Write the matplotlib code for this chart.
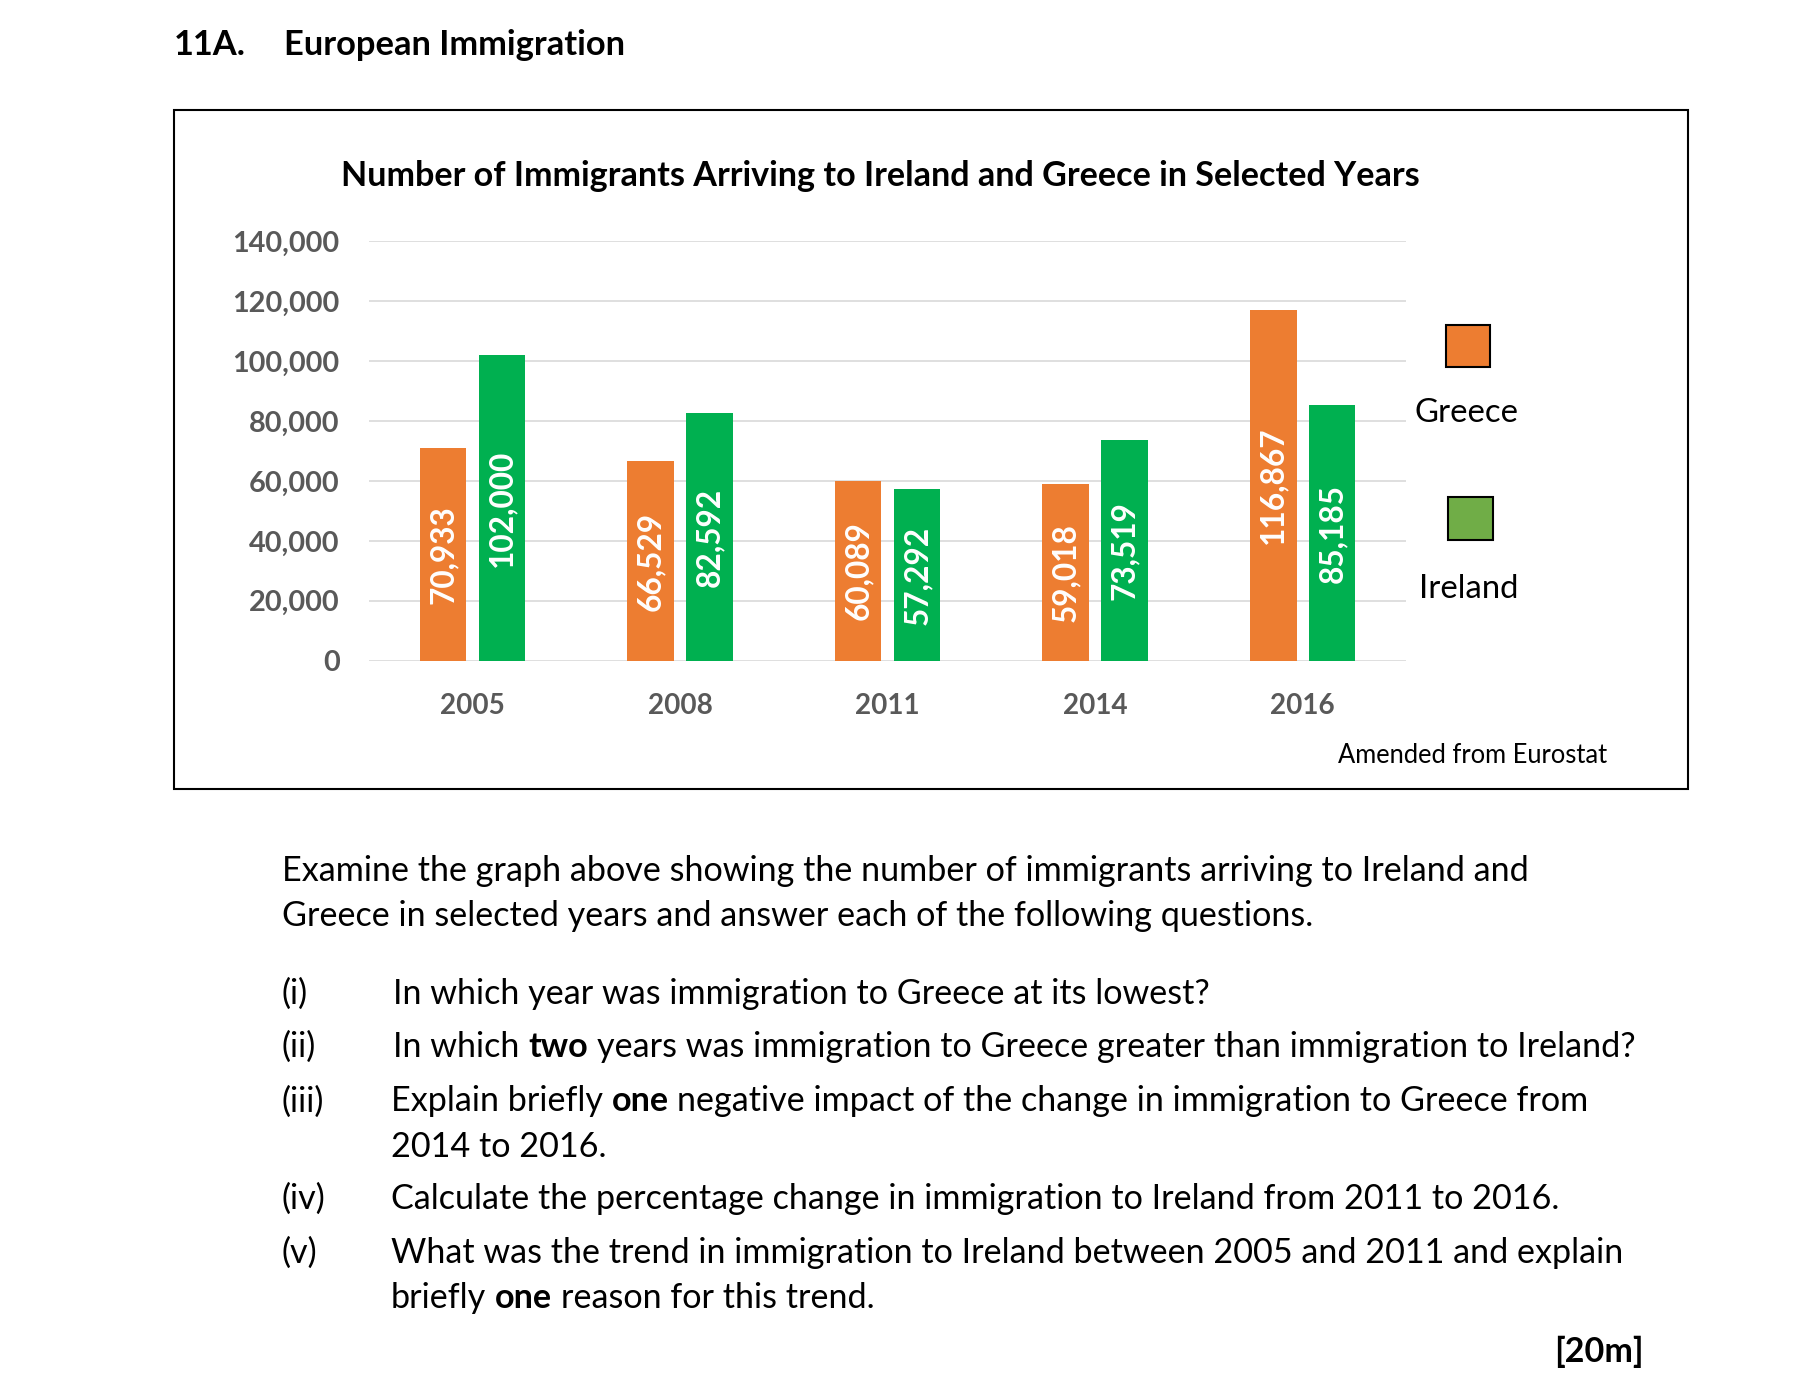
import matplotlib
matplotlib.use("Agg")
import matplotlib.pyplot as plt
from matplotlib.patches import Rectangle
from matplotlib.ticker import FuncFormatter

FONT = ["Lato", "DejaVu Sans"]
plt.rcParams['font.family'] = FONT

years = ["2005", "2008", "2011", "2014", "2016"]
greece = [70933, 66529, 60089, 59018, 116867]
ireland = [102000, 82592, 57292, 73519, 85185]
series_names = ["Greece", "Ireland"]
yticks = [0, 20000, 40000, 60000, 80000, 100000, 120000, 140000]

ORANGE = "#ED7D31"
GREEN = "#00B050"
LEG_GREEN = "#70AD47"
GRAY = "#595959"

W, H = 1818, 1390
SW, SH = 1568, 1199
S = W / SW
DY = 2  # small downward text shift (shrunk px)

fig = plt.figure(figsize=(W / 100, H / 100), dpi=100)
renderer = fig.canvas.get_renderer()


def X(xs):
    return xs / SW


def Y(ys):
    return 1 - ys / SH


def TY(ys):
    return Y(ys + DY)


def size_for(s, target_shrunk, weight="normal", base=20):
    t = fig.text(0, 0, s, fontsize=base, fontweight=weight)
    w = t.get_window_extent(renderer).width
    t.remove()
    return base * target_shrunk * S / w


# frame box
fig.add_artist(Rectangle((X(150), Y(681)), X(1456) - X(150), Y(95) - Y(681),
                         transform=fig.transFigure, fill=False, edgecolor="black", lw=1.5))

# header
hs = size_for("European Immigration", 294, "bold")
fig.text(X(150), TY(37), "11A.", fontsize=hs, fontweight="bold", va="center", ha="left")
fig.text(X(245), TY(37), "European Immigration", fontsize=hs, fontweight="bold", va="center", ha="left")

# chart title
title = "Number of Immigrants Arriving to Ireland and Greece in Selected Years"
fig.text(X(759), TY(150), title, fontsize=size_for(title, 930, "bold"), fontweight="bold",
         ha="center", va="center")

# axes
ax = fig.add_axes([X(318), Y(570), X(1213) - X(318), Y(208) - Y(570)])
n = len(years)
idx = list(range(n))
off, bw = 0.142, 0.225
gb = ax.bar([i - off for i in idx], greece, width=bw, color=ORANGE, zorder=3)
ib = ax.bar([i + off for i in idx], ireland, width=bw, color=GREEN, zorder=3)
ax.set_xlim(-0.5, n - 0.5)
ax.set_ylim(0, 140000)
ax.set_yticks(yticks)
ax.yaxis.set_major_formatter(FuncFormatter(lambda v, p: f"{int(v):,}"))
ax.set_xticks(idx)
ax.set_xticklabels(years)
for s in ax.spines.values():
    s.set_visible(False)
ax.grid(axis="y", color="#D9D9D9", lw=1.2, zorder=0)
ax.set_axisbelow(True)
tick_fs = size_for("140,000", 93, "bold")
yr_fs = size_for("2005", 56, "bold")
ax.tick_params(axis="y", length=0, pad=21, labelsize=tick_fs, labelcolor=GRAY)
ax.tick_params(axis="x", length=0, pad=23.5, labelsize=yr_fs, labelcolor=GRAY)
for lab in ax.get_yticklabels() + ax.get_xticklabels():
    lab.set_fontweight("bold")

lab_fs = size_for("102,000", 102, "bold")
for bars, vals in ((gb, greece), (ib, ireland)):
    for b, v in zip(bars, vals):
        ax.text(b.get_x() + b.get_width() / 2, v / 2, f"{v:,}", rotation=90,
                ha="center", va="center", color="white", fontweight="bold",
                fontsize=lab_fs, zorder=4)

# legend
fig.add_artist(Rectangle((X(1247), Y(317)), X(1285) - X(1247), Y(280) - Y(317),
                         transform=fig.transFigure, facecolor=ORANGE, edgecolor="black", lw=1.5))
fig.add_artist(Rectangle((X(1249), Y(466)), X(1288) - X(1249), Y(429) - Y(466),
                         transform=fig.transFigure, facecolor=LEG_GREEN, edgecolor="black", lw=1.5))
leg_fs = size_for("Greece", 90)
fig.text(X(1265), TY(354), series_names[0], fontsize=leg_fs, ha="center", va="center")
fig.text(X(1267), TY(506), series_names[1], fontsize=leg_fs, ha="center", va="center")

src = "Amended from Eurostat"
fig.text(X(1270), TY(650), src, fontsize=size_for(src, 233), ha="center", va="center")

# body text
line1 = "Examine the graph above showing the number of immigrants arriving to Ireland and"
body_fs = size_for(line1, 1077)


def seg_line(xs, ys, segs, fs):
    x = X(xs)
    sp = fig.text(0, 0, "x x", fontsize=fs)
    w1 = sp.get_window_extent(renderer).width
    sp.remove()
    sp = fig.text(0, 0, "xx", fontsize=fs)
    w2 = sp.get_window_extent(renderer).width
    sp.remove()
    space = (w1 - w2) / W
    for k, (txt, wt) in enumerate(segs):
        t = fig.text(x, TY(ys), txt, fontsize=fs, fontweight=wt, ha="left", va="center")
        x += t.get_window_extent(renderer).width / W
        if k < len(segs) - 1:
            x += space


fig.text(X(243), TY(749), line1, fontsize=body_fs, ha="left", va="center")
fig.text(X(243), TY(788), "Greece in selected years and answer each of the following questions.",
         fontsize=body_fs, ha="left", va="center")

N, B = "normal", "bold"
items = [
    ("(i)", 855, 339, [("In which year was immigration to Greece at its lowest?", N)]),
    ("(ii)", 901, 339, [("In which", N), ("two", B),
                        ("years was immigration to Greece greater than immigration to Ireland?", N)]),
    ("(iii)", 948, 337, [("Explain briefly", N), ("one", B),
                         ("negative impact of the change in immigration to Greece from", N)]),
    (None, 987, 337, [("2014 to 2016.", N)]),
    ("(iv)", 1032, 337, [("Calculate the percentage change in immigration to Ireland from 2011 to 2016.", N)]),
    ("(v)", 1079, 337, [("What was the trend in immigration to Ireland between 2005 and 2011 and explain", N)]),
    (None, 1118, 337, [("briefly", N), ("one", B), ("reason for this trend.", N)]),
]
for num, ys, xs, segs in items:
    if num:
        fig.text(X(243), TY(ys), num, fontsize=body_fs, ha="left", va="center")
    seg_line(xs, ys, segs, body_fs)

fig.text(X(1418), TY(1164), "[20m]", fontsize=body_fs, fontweight="bold", ha="right", va="center")

fig.savefig("out.png", dpi=100, facecolor="white")
